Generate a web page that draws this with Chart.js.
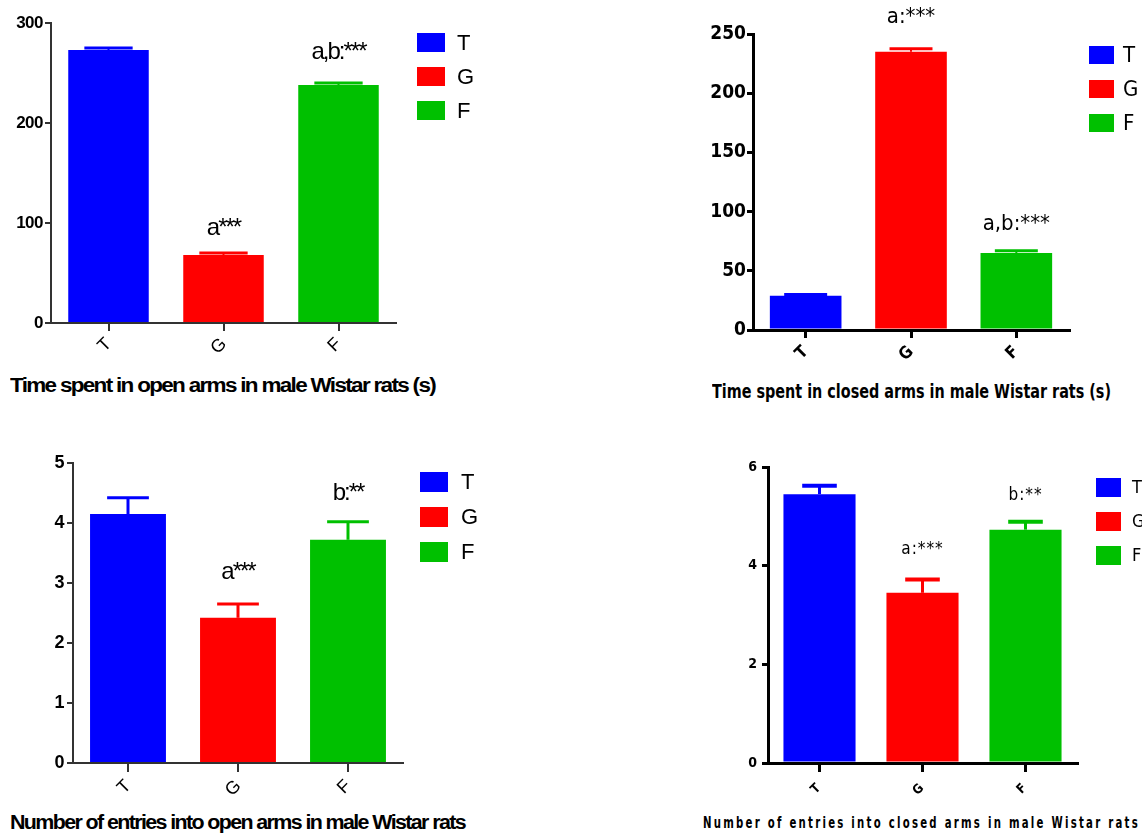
<!DOCTYPE html>
<html><head><meta charset="utf-8">
<script src="https://cdn.jsdelivr.net/npm/chart.js@4"></script>
<style>
html,body{margin:0;padding:0;background:#fff;width:1142px;height:836px;overflow:hidden;position:relative}
canvas{position:absolute;display:block}
.title{position:absolute;white-space:nowrap;font-weight:bold;color:#000;transform-origin:left center}
</style></head><body>
<canvas id="c1" width="500" height="370" style="left:0;top:0"></canvas>
<canvas id="c2" width="452" height="370" style="left:690px;top:0"></canvas>
<canvas id="c3" width="500" height="370" style="left:0;top:440px"></canvas>
<canvas id="c4" width="442" height="360" style="left:700px;top:450px"></canvas>
<div class="title" id="t1" data-w="425" style="left:10px;top:374px;font:bold 20px 'Liberation Sans',Arial,sans-serif;line-height:22px;letter-spacing:-1.5px">Time spent in open arms in male Wistar rats (s)</div>
<div class="title" id="t2" data-w="399" style="left:712px;top:380px;font:bold 20px 'Liberation Sans Narrow','Arial Narrow','DejaVu Sans Condensed',sans-serif;line-height:22px">Time spent in closed arms in male Wistar rats (s)</div>
<div class="title" id="t3" data-w="455" style="left:10px;top:811px;font:bold 20px 'Liberation Sans',Arial,sans-serif;line-height:22px;letter-spacing:-1.5px">Number of entries into open arms in male Wistar rats</div>
<div class="title" id="t4" data-w="437" style="left:703px;top:814px;font:bold 15px 'Liberation Sans Narrow','Arial Narrow','DejaVu Sans Condensed',sans-serif;line-height:18px;letter-spacing:3px">Number of entries into closed arms in male Wistar rats</div>
<script>
// ---------- DATA ----------
const categories = ['T', 'G', 'F'];

const openTimeMeans = [273, 68, 238];
const openTimeSEM = [2, 2, 2];
const openTimeMarks = ['', 'a***', 'a,b:***'];
const openTimeMarkY = [null, 95, 271];
const openTimeTicks = {min: 0, max: 300, step: 100};

const closedTimeMeans = [29, 235, 65];
const closedTimeSEM = [1, 2.5, 2];
const closedTimeMarks = ['', 'a:***', 'a,b:***'];
const closedTimeMarkY = [null, 264, 89.5];
const closedTimeTicks = {min: 0, max: 250, step: 50};

const openEntriesMeans = [4.15, 2.42, 3.72];
const openEntriesSEM = [0.27, 0.23, 0.30];
const openEntriesMarks = ['', 'a***', 'b:**'];
const openEntriesMarkY = [null, 3.18, 4.5];
const openEntriesTicks = {min: 0, max: 5, step: 1};

const closedEntriesMeans = [5.45, 3.45, 4.73];
const closedEntriesSEM = [0.17, 0.27, 0.16];
const closedEntriesMarks = ['', 'a:***', 'b:**'];
const closedEntriesMarkY = [null, 4.32, 5.43];
const closedEntriesTicks = {min: 0, max: 6, step: 2};

// ---------- STYLE ----------
const barColors = ['#0000ff', '#ff0000', '#00c000'];
const SANS = "'Liberation Sans', Arial, sans-serif";
const NARROW = "'Liberation Sans Narrow', 'Arial Narrow', 'DejaVu Sans Condensed', sans-serif";

function extrasPlugin(o) {
  return {
    id: 'extras',
    beforeDraw(chart) { chart.ctx.letterSpacing = o.tickSpacing || '0px'; },
    afterDatasetsDraw(chart) {
      const ctx = chart.ctx, ys = chart.scales.y;
      const meta = chart.getDatasetMeta(0);
      ctx.save();
      meta.data.forEach((bar, i) => {
        const m = o.means[i], e = o.sem[i];
        const yTop = ys.getPixelForValue(m + e), yMid = ys.getPixelForValue(m);
        const hw = bar.width * o.capFrac / 2;
        ctx.strokeStyle = barColors[i];
        ctx.lineCap = 'butt';
        ctx.lineWidth = o.stemW;
        ctx.beginPath(); ctx.moveTo(bar.x, yMid); ctx.lineTo(bar.x, yTop); ctx.stroke();
        ctx.lineWidth = o.capW;
        ctx.beginPath(); ctx.moveTo(bar.x - hw, yTop); ctx.lineTo(bar.x + hw, yTop); ctx.stroke();
        if (o.marks[i]) {
          ctx.letterSpacing = o.markSpacing || '0px';
          ctx.font = o.markFont;
          ctx.fillStyle = '#000';
          ctx.textAlign = 'center';
          ctx.textBaseline = 'middle';
          ctx.fillText(o.marks[i], bar.x, ys.getPixelForValue(o.markY[i]));
        }
      });
      // legend
      ctx.letterSpacing = '0px';
      const L = o.legend;
      categories.forEach((c, i) => {
        const y0 = L.y + i * L.gap;
        ctx.fillStyle = barColors[i];
        ctx.fillRect(L.x, y0, L.bw, L.bh);
        ctx.fillStyle = '#000';
        ctx.font = L.font;
        ctx.textAlign = 'left';
        ctx.textBaseline = 'middle';
        ctx.fillText(c, L.tx, y0 + L.bh / 2 + 1);
      });
      ctx.restore();
    }
  };
}

function makeChart(id, o) {
  new Chart(document.getElementById(id), {
    type: 'bar',
    data: {
      labels: categories,
      datasets: [{
        data: o.means,
        backgroundColor: barColors,
        borderWidth: 0,
        barPercentage: o.barPct,
        categoryPercentage: 1
      }]
    },
    options: {
      responsive: false,
      animation: false,
      devicePixelRatio: 1,
      layout: {padding: o.pad},
      plugins: {legend: {display: false}, tooltip: {enabled: false}},
      scales: {
        x: {
          grid: {display: true, offset: false, drawOnChartArea: false, drawTicks: true,
                 tickLength: o.xTickLen, color: o.axisColor, lineWidth: o.tickW},
          border: {display: true, color: o.axisColor, width: o.axisW},
          ticks: {minRotation: 45, maxRotation: 45, color: '#000', font: o.xFont, padding: o.xPad},
          afterFit(s) { s.height = o.xH; }
        },
        y: {
          min: o.ticks.min, max: o.ticks.max,
          grid: {display: true, drawOnChartArea: false, drawTicks: true,
                 tickLength: o.yTickLen, color: o.axisColor, lineWidth: o.tickW},
          border: {display: true, color: o.axisColor, width: o.axisW},
          ticks: {stepSize: o.ticks.step, color: '#000', font: o.yFont, padding: o.yPad},
          afterFit(s) { s.width = o.yW; }
        }
      }
    },
    plugins: [extrasPlugin(o)]
  });
}

// Panel 1
makeChart('c1', {
  means: openTimeMeans, sem: openTimeSEM, marks: openTimeMarks, markY: openTimeMarkY, ticks: openTimeTicks,
  pad: {left: 0, top: 23, right: 104, bottom: 0}, xH: 47, yW: 51, barPct: 0.70,
  axisColor: '#333', axisW: 2, tickW: 2, xTickLen: 8, yTickLen: 6, xPad: 3, yPad: 2,
  xFont: {family: SANS, size: 18}, yFont: {family: SANS, size: 17, weight: 'bold'}, tickSpacing: '-0.5px',
  capFrac: 0.6, stemW: 2, capW: 3,
  markFont: '24px ' + SANS, markSpacing: '-2px',
  legend: {x: 417, y: 33, gap: 34, bw: 28, bh: 19, tx: 457, font: '22px ' + SANS}
});

// Panel 2
makeChart('c2', {
  means: closedTimeMeans, sem: closedTimeSEM, marks: closedTimeMarks, markY: closedTimeMarkY, ticks: closedTimeTicks,
  pad: {left: 0, top: 34, right: 73, bottom: 0}, xH: 40, yW: 63, barPct: 0.68,
  axisColor: '#000', axisW: 3, tickW: 3, xTickLen: 8, yTickLen: 6, xPad: 4, yPad: 1,
  xFont: {family: NARROW, size: 17, weight: 'bold'}, yFont: {family: NARROW, size: 19, weight: 'bold'},
  capFrac: 0.6, stemW: 2, capW: 3,
  markFont: '22px ' + NARROW,
  legend: {x: 399, y: 46, gap: 34, bw: 25, bh: 18, tx: 433, font: '22px ' + NARROW}
});

// Panel 3
makeChart('c3', {
  means: openEntriesMeans, sem: openEntriesSEM, marks: openEntriesMarks, markY: openEntriesMarkY, ticks: openEntriesTicks,
  pad: {left: 0, top: 23, right: 97, bottom: 0}, xH: 47, yW: 73, barPct: 0.69,
  axisColor: '#333', axisW: 2, tickW: 2, xTickLen: 9, yTickLen: 6, xPad: 4, yPad: 3,
  xFont: {family: SANS, size: 18}, yFont: {family: SANS, size: 18, weight: 'bold'}, tickSpacing: '-0.5px',
  capFrac: 0.55, stemW: 3, capW: 3,
  markFont: '24px ' + SANS, markSpacing: '-2px',
  legend: {x: 420, y: 32, gap: 35, bw: 28, bh: 20, tx: 461, font: '22px ' + SANS}
});

// Panel 4
makeChart('c4', {
  means: closedEntriesMeans, sem: closedEntriesSEM, marks: closedEntriesMarks, markY: closedEntriesMarkY, ticks: closedEntriesTicks,
  pad: {left: 0, top: 17, right: 65, bottom: 0}, xH: 47, yW: 68, barPct: 0.70,
  axisColor: '#000', axisW: 3, tickW: 3, xTickLen: 9, yTickLen: 6, xPad: 8, yPad: 4,
  xFont: {family: NARROW, size: 13, weight: 'bold'}, yFont: {family: NARROW, size: 14, weight: 'bold'}, tickSpacing: '1px',
  capFrac: 0.48, stemW: 3, capW: 4,
  markFont: '17px ' + NARROW, markSpacing: '1px',
  legend: {x: 396, y: 28, gap: 34, bw: 25, bh: 19, tx: 432, font: '18px ' + NARROW}
});

// titles: fit to reference width
document.querySelectorAll('.title').forEach(el => {
  const w = el.getBoundingClientRect().width;
  const target = +el.dataset.w;
  el.style.transform = 'scaleX(' + (target / w) + ')';
});
</script>
</body></html>
